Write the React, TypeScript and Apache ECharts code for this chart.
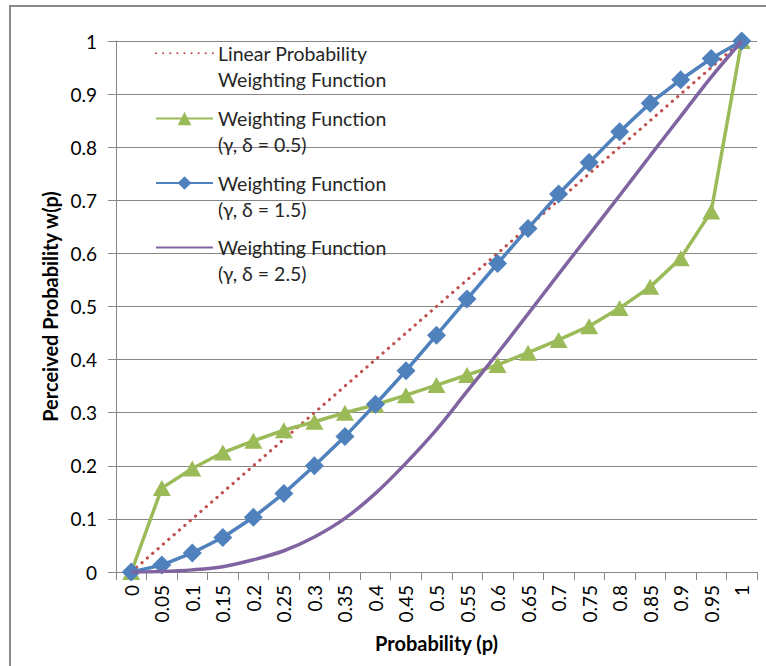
import React, { useEffect, useRef } from "react";
import * as echarts from "echarts";

const categories = ["0", "0.05", "0.1", "0.15", "0.2", "0.25", "0.3", "0.35", "0.4", "0.45", "0.5", "0.55", "0.6", "0.65", "0.7", "0.75", "0.8", "0.85", "0.9", "0.95", "1"];
const linearValues = [0, 0.05, 0.1, 0.15, 0.2, 0.25, 0.3, 0.35, 0.4, 0.45, 0.5, 0.55, 0.6, 0.65, 0.7, 0.75, 0.8, 0.85, 0.9, 0.95, 1];
const wf05Values = [0, 0.158, 0.195, 0.225, 0.247, 0.267, 0.283, 0.3, 0.315, 0.333, 0.352, 0.371, 0.39, 0.413, 0.437, 0.463, 0.497, 0.537, 0.591, 0.679, 1];
const wf15Values = [0, 0.013, 0.036, 0.065, 0.103, 0.148, 0.2, 0.255, 0.316, 0.379, 0.446, 0.514, 0.581, 0.647, 0.712, 0.771, 0.829, 0.883, 0.927, 0.967, 1];
const wf25Values = [0, 0.001, 0.004, 0.01, 0.023, 0.04, 0.066, 0.101, 0.148, 0.205, 0.268, 0.34, 0.412, 0.486, 0.561, 0.635, 0.709, 0.784, 0.858, 0.932, 1];

const seriesNames = [
  "Linear Probability\nWeighting Function",
  "Weighting Function\n(γ, δ = 0.5)",
  "Weighting Function\n(γ, δ = 1.5)",
  "Weighting Function\n(γ, δ = 2.5)",
];

const FONT = "Lato, 'Liberation Sans', sans-serif";

export default function App() {
  const ref = useRef<HTMLDivElement>(null);
  useEffect(() => {
    if (!ref.current) return;
    const chart = echarts.init(ref.current, null, { renderer: "svg" });
    const iconCenters = [53.3, 118.5, 183, 247.5];
    const legends = seriesNames.map((name, i) => ({
      data: [name],
      orient: "vertical",
      left: 155,
      top: iconCenters[i] - 39,
      padding: 0,
      itemWidth: 57,
      itemHeight: 17,
      itemGap: 5,
      formatter: (n: string) => "\n" + n,
      itemStyle: i === 0 || i === 3 ? { opacity: 0 } : {},
      textStyle: {
        fontFamily: FONT,
        fontSize: 19.5,
        lineHeight: 26,
        color: "#262626",
      },
    }));
    chart.setOption({
      animation: false,
      textStyle: { fontFamily: FONT },
      graphic: [
        {
          type: "rect",
          shape: { x: 10, y: 6, width: 800, height: 720 },
          style: { fill: "none", stroke: "#898989", lineWidth: 2 },
          silent: true,
          z: -1,
        },
      ],
      legend: legends,
      grid: { left: 116, right: 9, top: 41, bottom: 94, containLabel: false },
      xAxis: {
        type: "category",
        data: categories,
        boundaryGap: true,
        name: "Probability (p)",
        nameLocation: "middle",
        nameGap: 61,
        nameTextStyle: { fontFamily: FONT, fontSize: 20, fontWeight: "bold", color: "#000" },
        axisLine: { lineStyle: { color: "#868686", width: 1 } },
        axisTick: { show: true, length: 8, lineStyle: { color: "#868686" } },
        axisLabel: { rotate: 90, margin: 13, fontFamily: FONT, fontSize: 19, color: "#000", interval: 0 },
        splitLine: { show: false },
      },
      yAxis: {
        type: "value",
        min: 0,
        max: 1,
        interval: 0.1,
        name: "Perceived Probability w(p)",
        nameLocation: "middle",
        nameGap: 56,
        nameTextStyle: { fontFamily: FONT, fontSize: 20, fontWeight: "bold", color: "#000" },
        axisLine: { show: true, lineStyle: { color: "#868686", width: 1 } },
        axisTick: { show: true, length: 8, lineStyle: { color: "#868686" } },
        axisLabel: { margin: 19, fontFamily: FONT, fontSize: 19, color: "#000" },
        splitLine: { show: true, lineStyle: { color: "#868686", width: 1 } },
      },
      series: [
        {
          name: seriesNames[0],
          type: "line",
          data: linearValues,
          symbol: "none",
          color: "#C0504D",
          lineStyle: { color: "#C0504D", width: 3.2, type: [0.1, 7], cap: "round" },
          z: 2,
        },
        {
          name: seriesNames[1],
          type: "line",
          data: wf05Values,
          symbol: "triangle",
          symbolSize: [18, 16],
          color: "#9BBB59",
          itemStyle: { color: "#9BBB59" },
          lineStyle: { color: "#9BBB59", width: 3.5 },
          z: 3,
        },
        {
          name: seriesNames[2],
          type: "line",
          data: wf15Values,
          symbol: "diamond",
          symbolSize: [19, 19],
          color: "#4F81BD",
          itemStyle: { color: "#4F81BD" },
          lineStyle: { color: "#4F81BD", width: 3.5 },
          z: 4,
        },
        {
          name: seriesNames[3],
          type: "line",
          data: wf25Values,
          symbol: "none",
          smooth: 0.35,
          color: "#8064A2",
          lineStyle: { color: "#8064A2", width: 3.5 },
          z: 5,
        },
      ],
    });
    return () => chart.dispose();
  }, []);
  return (
    <div
      ref={ref}
      style={{ position: "absolute", left: 0, top: 0, width: 766, height: 666, background: "#fff" }}
    />
  );
}
